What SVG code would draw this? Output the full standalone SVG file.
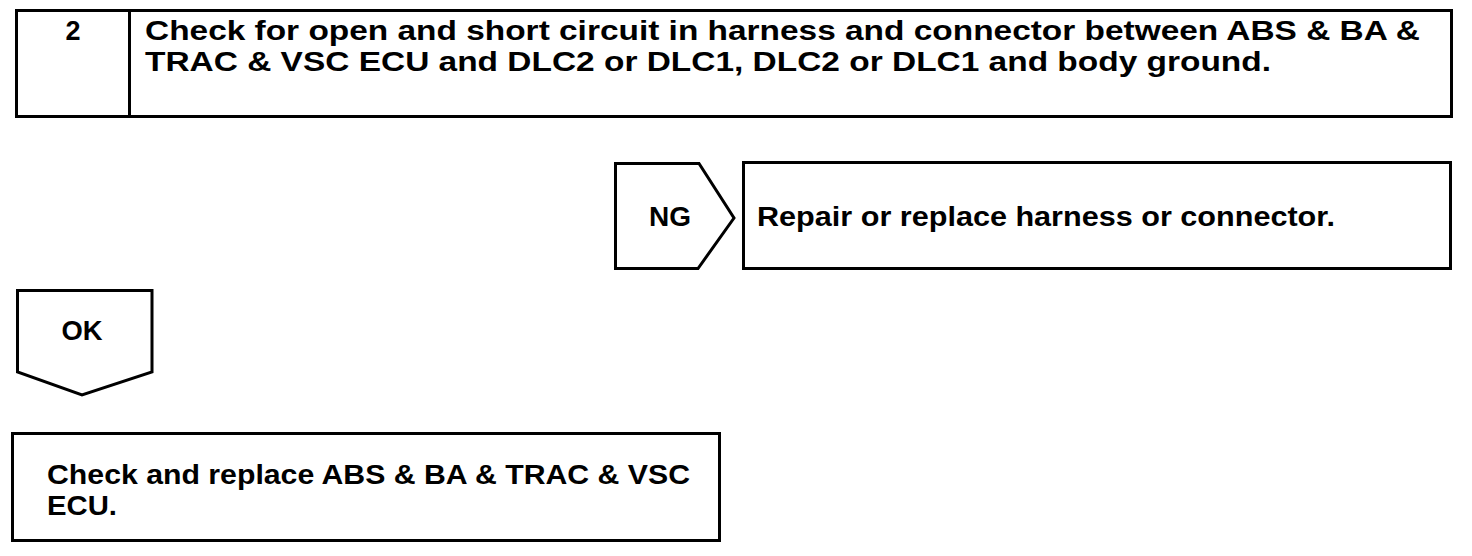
<svg xmlns="http://www.w3.org/2000/svg" width="1472" height="556" viewBox="0 0 1472 556">
<style>
.box{fill:#fff;stroke:#000;stroke-width:3}
.t{font-family:"Liberation Sans",Arial,sans-serif;font-weight:bold;font-size:27px;fill:#000}
</style>
<rect width="1472" height="556" fill="#fff"/>
<g id="step2">
<rect class="box" x="16.5" y="10.5" width="1435" height="106"/>
<line x1="129.5" y1="10" x2="129.5" y2="117" stroke="#000" stroke-width="3"/>
<text class="t" x="73" y="40" text-anchor="middle">2</text>
<text class="t" x="145" y="40" textLength="1275" lengthAdjust="spacingAndGlyphs">Check for open and short circuit in harness and connector between ABS &amp; BA &amp;</text>
<text class="t" x="145" y="71" textLength="1126" lengthAdjust="spacingAndGlyphs">TRAC &amp; VSC ECU and DLC2 or DLC1, DLC2 or DLC1 and body ground.</text>
</g>
<g id="connectors">
<g id="ng">
<polygon class="box" points="615.5,163.5 699,163.5 734,218 698,268.5 615.5,268.5"/>
<text class="t" x="670" y="226" text-anchor="middle" textLength="42" lengthAdjust="spacingAndGlyphs">NG</text>
</g>
<g id="ok">
<polygon class="box" points="17.5,290.5 152,290.5 152,372 82,395 17.5,372"/>
<text class="t" x="82" y="340" text-anchor="middle" textLength="41" lengthAdjust="spacingAndGlyphs">OK</text>
</g>
</g>
<g id="repair">
<rect class="box" x="743.5" y="162.5" width="707" height="106"/>
<text class="t" x="757" y="226" textLength="578" lengthAdjust="spacingAndGlyphs">Repair or replace harness or connector.</text>
</g>
<g id="replace-ecu">
<rect class="box" x="12.5" y="433.5" width="707" height="107"/>
<text class="t" x="47" y="484" textLength="643" lengthAdjust="spacingAndGlyphs">Check and replace ABS &amp; BA &amp; TRAC &amp; VSC</text>
<text class="t" x="47" y="515" textLength="70" lengthAdjust="spacingAndGlyphs">ECU.</text>
</g>
</svg>
